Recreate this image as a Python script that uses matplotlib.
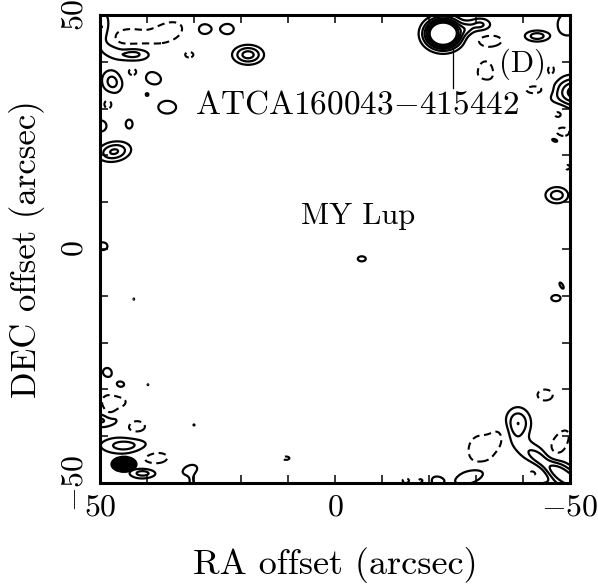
import numpy as np
import matplotlib
matplotlib.use("Agg")
import matplotlib.pyplot as plt
from matplotlib.patches import Ellipse
from matplotlib.ticker import MultipleLocator, FixedLocator, FixedFormatter

plt.rcParams["mathtext.fontset"] = "cm"
plt.rcParams["font.family"] = ["cmr10", "DejaVu Serif"]

# Map components (arcsec offsets)
# ra, dec, peak (in contour steps), sigma along major / minor, position angle (deg)
comp_ra = [-23.0, -28.0, -30.9, -43.0, -49.5, -52.0, -30.7,
           43.0, 18.5, 27.8, 22.9, 38.7, 47.4, 35.7, 43.8, 49.8, 47.0, 49.4, 42.8, 40.0,
           49.5, 47.5,
           -5.7,
           -47.2, -46.8, -49.5, -47.0, -48.2,
           48.5, 45.7, 39.8, 49.0, 30.0, 44.7, 40.9, 30.9, 30.5, 43.0,
           -38.9, -48.0, -21.5, -29.0, -26.4, -44.0]
comp_dec = [46.0, 47.0, 47.9, 45.5, 48.0, 33.5, 35.2,
            41.7, 41.5, 47.0, 47.0, 36.5, 35.7, 30.3, 26.7, 26.3, 20.8, 0.6, -10.7, 33.0,
            47.0, 42.5,
            -2.1,
            11.5, 23.3, 19.5, -10.5, -7.8,
            -26.3, -29.3, -29.0, -36.5, -37.6, -42.0, -47.9, -47.2, -50.5, -50.8,
            -37.2, -48.0, -49.5, -48.5, -44.2, -50.5]
comp_amp = [13.0, 1.3, 2.2, 2.6, 2.0, 5.0, 1.4,
            2.6, 3.5, 1.5, 1.5, 1.5, 2.4, 1.5, 1.3, 1.5, 3.2, 1.4, 1.05, 1.1,
            2.2, 1.5,
            1.5,
            2.6, 1.3, 1.3, 1.4, 1.2,
            1.3, 1.5, 1.05, 2.5, 1.05, 2.5, 2.5, 1.5, 1.3, 1.4,
            3.0, 4.0, 1.5, 2.2, 1.05, 1.4]
comp_sx = [2.3, 1.2, 1.7, 1.9, 1.8, 3.8, 1.9,
           2.7, 2.15, 1.5, 1.5, 1.9, 1.6, 2.1, 1.0, 1.3, 2.4, 1.2, 0.5, 0.5,
           1.2, 1.5,
           0.95,
           1.75, 1.2, 1.0, 1.2, 1.2,
           1.2, 1.7, 0.5, 2.5, 0.5, 3.8, 2.1, 1.8, 0.6, 2.5,
           1.9, 7.0, 1.6, 2.8, 0.5, 2.0]
comp_sy = [1.9, 1.0, 1.05, 0.85, 2.0, 2.2, 0.8,
           1.1, 1.35, 1.2, 1.2, 1.4, 1.9, 1.5, 1.3, 1.3, 1.4, 1.0, 0.4, 0.5,
           3.0, 1.0,
           0.6,
           1.25, 0.6, 0.9, 0.8, 0.5,
           1.2, 1.4, 0.5, 1.2, 0.5, 1.35, 0.8, 1.1, 1.5, 0.8,
           2.3, 1.6, 1.0, 1.2, 0.5, 0.8]
comp_pa = [0, 0, 0, 0, 0, 0, 0,
           0, 0, 0, 0, 20, -20, 0, 0, 0, -10, 0, 0, 0,
           0, 30,
           0,
           0, 20, 0, 0, 60,
           0, 0, 0, 0, 0, 0, 0, -20, 0, 0,
           0, 35, 0, -20, 0, 0]

# negative (dashed) components
neg_ra = [43.6, 35.5, 31.0, 43.0, 48.3, 46.8, 42.3, 38.3, 10.4,
          -31.0, -44.7, -47.5, -33.0, -32.0, -43.0, -46.0, -47.5, -48.5, -49.5,
          -35.0, -42.5, 48.0, -15.0, -18.5]
neg_dec = [45.1, 46.4, 41.5, 37.8, 31.0, -32.3, -38.0, -44.5, -44.7,
           -43.0, -31.2, -42.0, 44.5, 37.5, 34.0, 38.0, 29.0, 25.0, 18.0,
           -40.0, -47.5, -35.0, -49.5, -49.5]
neg_amp = [-1.7, -1.7, -1.3, -1.4, -1.4, -1.5, -1.5, -1.5, -1.2,
           -1.7, -1.5, -1.7, -1.6, -1.7, -1.6, -1.4, -1.4, -1.5, -1.3,
           -1.4, -1.5, -1.3, -1.2, -1.3]
neg_sx = [3.5, 3.0, 1.2, 1.3, 1.0, 2.8, 2.1, 3.0, 1.2,
          2.5, 1.8, 1.5, 2.5, 1.6, 2.5, 1.0, 1.4, 1.5, 1.0,
          1.5, 2.0, 1.0, 1.0, 1.2]
neg_sy = [1.8, 1.8, 0.8, 1.0, 1.2, 2.0, 1.4, 1.5, 0.6,
          3.0, 1.3, 3.5, 1.2, 2.5, 1.0, 1.5, 1.2, 1.0, 1.5,
          2.0, 1.2, 1.5, 0.8, 0.8]
neg_pa = [0, -20, 0, 0, 0, 0, 0, 0, 0,
          0, 0, 30, 0, 0, 0, 0, 0, 0, 0,
          20, 30, 0, 0, 0]

pos_levels = [1, 2, 3, 4, 5, 6]
neg_levels = [-2, -1]

# synthesized beam (ra, dec, width, height in arcsec)
beam = (44.9, -46.0, 5.5, 3.4)


def make_map(ra, dec, amp, sx, sy, pa, xx, yy):
    img = np.zeros_like(xx)
    for r0, d0, a, s1, s2, t in zip(ra, dec, amp, sx, sy, pa):
        th = np.deg2rad(t)
        dx = xx - r0
        dy = yy - d0
        u = dx * np.cos(th) + dy * np.sin(th)
        v = -dx * np.sin(th) + dy * np.cos(th)
        img += a * np.exp(-0.5 * (u**2 / s1**2 + v**2 / s2**2))
    return img


def main():
    grid = np.linspace(-55, 55, 551)
    xx, yy = np.meshgrid(grid, grid)
    img = make_map(comp_ra + neg_ra, comp_dec + neg_dec, comp_amp + neg_amp,
                   comp_sx + neg_sx, comp_sy + neg_sy, comp_pa + neg_pa, xx, yy)

    fig = plt.figure(figsize=(5.98, 5.87), dpi=100)
    ax = fig.add_axes([100 / 598, 1 - 483 / 587, 470 / 598, 468 / 587])

    ax.contour(xx, yy, img, levels=pos_levels, colors="k", linewidths=1.6,
               linestyles="solid")
    ax.contour(xx, yy, img, levels=neg_levels, colors="k", linewidths=1.5,
               linestyles=[(0, (3.5, 2.2))])

    ax.add_patch(Ellipse((beam[0], beam[1]), beam[2], beam[3], color="k"))

    # pointer to the ATCA source
    ax.plot([-25.1, -25.1], [42.9, 34.4], color="k", lw=0.9)

    ax.text(-4.7, 30.8, r"ATCA160043$-$415442", ha="center", va="center", fontsize=24)
    ax.text(-4.9, 6.9, "MY Lup", ha="center", va="center", fontsize=22)
    ax.text(-39.8, 39.5, "(D)", ha="center", va="center", fontsize=22)

    ax.set_xlim(50, -50)
    ax.set_ylim(-50, 50)

    ax.xaxis.set_major_locator(FixedLocator([50, 0, -50]))
    ax.xaxis.set_major_formatter(FixedFormatter(["$50$", "$0$", "$-50$"]))
    ax.yaxis.set_major_locator(FixedLocator([50, 0, -50]))
    ax.yaxis.set_major_formatter(FixedFormatter(["$50$", "$0$", "$-50$"]))
    ax.xaxis.set_minor_locator(MultipleLocator(10))
    ax.yaxis.set_minor_locator(MultipleLocator(10))
    ax.tick_params(which="both", direction="in", top=True, right=True,
                   length=6, width=1.1, labelsize=23)
    ax.tick_params(axis="x", pad=8)
    ax.tick_params(axis="y", labelrotation=90, pad=8)
    for lab in ax.get_yticklabels():
        lab.set_verticalalignment("center")

    for sp in ax.spines.values():
        sp.set_linewidth(2.2)

    ax.set_xlabel("RA offset (arcsec)", fontsize=26, labelpad=18)
    ax.set_ylabel("DEC offset (arcsec)", fontsize=25, labelpad=12)

    fig.savefig("out.png", dpi=100)


if __name__ == "__main__":
    main()
